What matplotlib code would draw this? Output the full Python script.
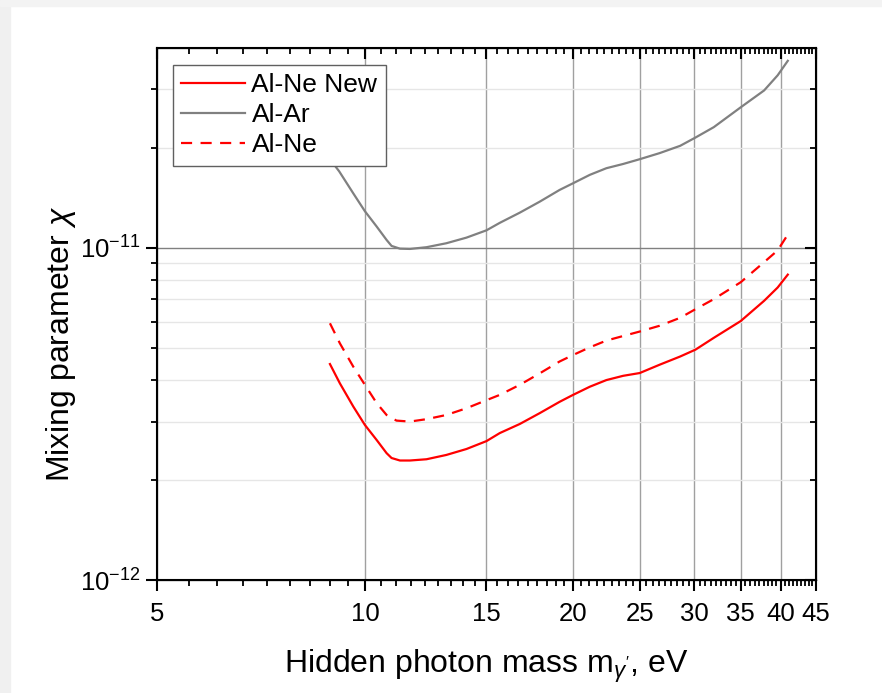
import matplotlib
matplotlib.use('Agg')
import matplotlib.pyplot as plt
from matplotlib.ticker import FixedLocator, FixedFormatter, NullFormatter
from matplotlib.patches import Rectangle

plt.rcParams['font.family'] = ['Liberation Sans', 'DejaVu Sans']
plt.rcParams['mathtext.fontset'] = 'custom'
plt.rcParams['mathtext.rm'] = 'Liberation Sans'
plt.rcParams['mathtext.it'] = 'Liberation Sans:italic'

# data (mass in eV, mixing parameter in units of 1e-12)
x_new = [8.9, 9.2, 9.62, 10.0, 10.4, 10.75, 10.93, 11.24, 11.62, 12.28, 13.12, 14.03, 15.0,
         15.68, 16.76, 17.91, 19.14, 20.02, 21.17, 22.37, 23.66, 25.0, 26.72, 28.61, 30.11,
         32.0, 35.0, 37.85, 39.6, 40.96]
y_new = [4.47, 3.91, 3.33, 2.93, 2.64, 2.41, 2.33, 2.29, 2.29, 2.31, 2.38, 2.48, 2.62,
         2.77, 2.95, 3.18, 3.44, 3.61, 3.82, 4.0, 4.12, 4.2, 4.45, 4.71, 4.94,
         5.36, 6.02, 6.93, 7.6, 8.31]

x_ar = [8.9, 9.18, 9.62, 10.0, 10.4, 10.75, 10.93, 11.24, 11.62, 12.28, 13.12, 14.03, 15.0,
        15.68, 16.76, 17.91, 19.14, 20.02, 21.17, 22.37, 23.66, 25.0, 26.72, 28.61, 30.11,
        32.0, 35.0, 37.85, 39.6, 40.96]
y_ar = [18.5, 17.0, 14.6, 12.9, 11.6, 10.57, 10.14, 9.95, 9.93, 10.05, 10.33, 10.74, 11.3,
        11.9, 12.77, 13.78, 14.95, 15.66, 16.6, 17.38, 17.9, 18.5, 19.3, 20.3, 21.5,
        23.1, 26.5, 29.8, 33.1, 36.6]

x_ne = [8.9, 9.2, 9.62, 10.0, 10.4, 10.75, 11.11, 11.62, 12.28, 13.12, 14.03, 15.0,
        15.68, 16.76, 17.91, 19.14, 20.02, 21.17, 22.37, 23.66, 25.0, 26.72, 28.61, 30.11,
        32.0, 35.0, 37.85, 39.6, 40.96]
y_ne = [5.93, 5.16, 4.39, 3.87, 3.41, 3.14, 3.02, 3.0, 3.05, 3.14, 3.29, 3.48,
        3.61, 3.87, 4.19, 4.55, 4.76, 5.02, 5.26, 5.43, 5.6, 5.83, 6.16, 6.54,
        7.01, 7.88, 9.06, 9.83, 10.97]

x_major = [5, 10, 15, 20, 25, 30, 35, 40, 45]
x_labels = ['5', '10', '15', '20', '25', '30', '35', '40', '45']
y_major = [1e-12, 1e-11]
y_labels = ['$10^{-12}$', '$10^{-11}$']
y_minor = [2e-12, 3e-12, 4e-12, 5e-12, 6e-12, 7e-12, 8e-12, 9e-12, 2e-11, 3e-11]

# 8 minor ticks between every pair of major ticks
x_minor = []
for a in x_major[:-1]:
    for k in range(1, 9):
        x_minor.append(a + k * 5 / 9)

fig = plt.figure(figsize=(8.82, 6.93), dpi=100)
fig.patches.append(Rectangle((0, 0), 10 / 882, 1, transform=fig.transFigure,
                             color='#f0f0f0', zorder=-10))
fig.patches.append(Rectangle((0, 1 - 6 / 693), 1, 6 / 693, transform=fig.transFigure,
                             color='#f3f3f3', zorder=-10))
ax = fig.add_axes([157 / 882, 113 / 693, 659 / 882, 532 / 693])

sc = 1e-12
l1, = ax.plot(x_new, [v * sc for v in y_new], color='#ff0000', lw=1.6, label='Al-Ne New', zorder=3)
l2, = ax.plot(x_ar, [v * sc for v in y_ar], color='#808080', lw=1.6, label='Al-Ar', zorder=3)
l3, = ax.plot(x_ne, [v * sc for v in y_ne], color='#ff0000', lw=1.6, ls=(0, (5, 3.8)),
              label='Al-Ne', zorder=3)

ax.set_xscale('log')
ax.set_yscale('log')
ax.set_xlim(5, 45)
ax.set_ylim(1e-12, 4e-11)

ax.xaxis.set_major_locator(FixedLocator(x_major))
ax.xaxis.set_major_formatter(FixedFormatter(x_labels))
ax.xaxis.set_minor_locator(FixedLocator(x_minor))
ax.xaxis.set_minor_formatter(NullFormatter())
ax.yaxis.set_major_locator(FixedLocator(y_major))
ax.yaxis.set_major_formatter(FixedFormatter(y_labels))
ax.yaxis.set_minor_locator(FixedLocator(y_minor))
ax.yaxis.set_minor_formatter(NullFormatter())

ax.tick_params(which='major', direction='out', length=8, width=1.5, labelsize=18.5)
ax.tick_params(axis='x', which='major', pad=8)
ax.tick_params(axis='y', which='major', pad=4)
ax.tick_params(which='minor', direction='out', length=4, width=1.3)

for x in x_major[1:-1]:
    ax.axvline(x, color='#a0a0a0', lw=1.0, zorder=1)
for y in y_minor:
    ax.axhline(y, color='#e6e6e6', lw=1.0, zorder=1)
ax.axhline(1e-11, color='#808080', lw=1.0, zorder=1)

for s in ax.spines.values():
    s.set_linewidth(1.5)

# mirrored axes on top and right with inward ticks
axt = ax.twiny()
axt.set_xscale('log')
axt.set_xlim(5, 45)
axt.xaxis.set_major_locator(FixedLocator(x_major))
axt.xaxis.set_minor_locator(FixedLocator(x_minor))
axt.xaxis.set_major_formatter(NullFormatter())
axt.xaxis.set_minor_formatter(NullFormatter())
axt.tick_params(which='major', direction='in', length=8, width=1.5)
axt.tick_params(which='minor', direction='in', length=4, width=1.3)

axr = ax.twinx()
axr.set_yscale('log')
axr.set_ylim(1e-12, 4e-11)
axr.yaxis.set_major_locator(FixedLocator(y_major))
axr.yaxis.set_minor_locator(FixedLocator(y_minor))
axr.yaxis.set_major_formatter(NullFormatter())
axr.yaxis.set_minor_formatter(NullFormatter())
axr.tick_params(which='major', direction='in', length=8, width=1.5)
axr.tick_params(which='minor', direction='in', length=4, width=1.3)

ax.set_xlabel("Hidden photon mass m$_{\\gamma'}$, eV", fontsize=23)
ax.set_ylabel('Mixing parameter $\\chi$', fontsize=23)
ax.xaxis.set_label_coords(0.5, -0.127)
ax.yaxis.set_label_coords(-0.12, 0.444)

leg = axr.legend(handles=[l1, l2, l3], loc='upper left', bbox_to_anchor=(0.024, 0.968),
                 fontsize=19, frameon=True, fancybox=False, framealpha=1,
                 edgecolor='#606060', handlelength=2.4, handletextpad=0.26,
                 borderaxespad=0, labelspacing=0.22, borderpad=0.32)
leg.get_frame().set_linewidth(1.0)

fig.savefig('out.png', dpi=100)
